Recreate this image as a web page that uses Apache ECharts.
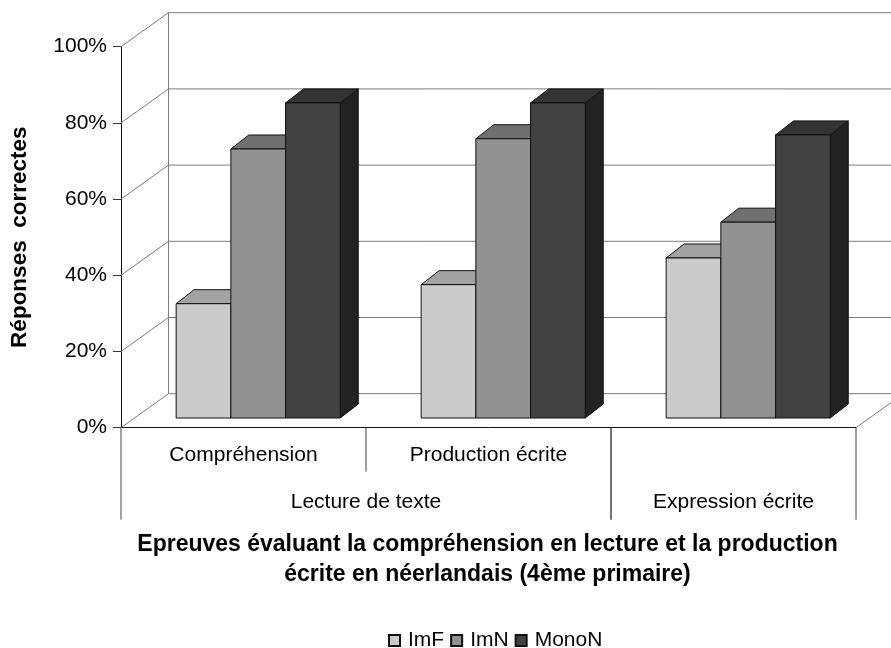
<!DOCTYPE html>
<html>
<head>
<meta charset="utf-8">
<style>html,body{margin:0;padding:0;background:#fff}#chart{width:891px;height:648px}</style>
<script src="https://cdn.jsdelivr.net/npm/echarts@6/dist/echarts.min.js"></script>
</head>
<body>
<div id="chart"></div>
<script>
// Scores per test, in percent of correct answers
const categories = ['Compréhension', 'Production écrite', ''];
const imF = [30, 35, 42];
const imN = [70.6, 73.3, 51.4];
const monoN = [82.7, 82.7, 74.3];
const valueTicks = [0, 20, 40, 60, 80, 100];
// Second label level: first category, last category, text
const groupStart = [0, 2];
const groupEnd = [1, 2];
const groupNames = ['Lecture de texte', 'Expression écrite'];
const xTitle = 'Epreuves évaluant la compréhension en lecture et la production\nécrite en néerlandais (4ème primaire)';
const yTitle = 'Réponses  correctes';

// Oblique projection used to fake the 3D box
const WALL_DX = 47.5, WALL_DY = -34;
const BAR_DX = 18, BAR_DY = -14;
const FLOOR_LIFT = 9.7;
const BAR_W = 54.7, CLUSTER_SHIFT = 14.7;
const FONT = '"Liberation Sans", Arial, sans-serif';

const line = (x1, y1, x2, y2, stroke, w) => ({
  type: 'line', shape: {x1, y1, x2, y2}, style: {stroke, lineWidth: w || 1}
});
const poly = (points, fill) => ({
  type: 'polygon', shape: {points}, style: {fill, stroke: '#111', lineWidth: 1, lineJoin: 'miter'}
});

function renderWall(params, api) {
  const v = api.value(1);
  const left = api.coord([0, v])[0] - api.size([1, 0])[0] / 2;
  const y = api.coord([0, v])[1];
  const right = left + api.size([1, 0])[0] * categories.length;
  const grey = '#7c7c7c';
  const kids = [
    line(left + WALL_DX, y + WALL_DY, right + WALL_DX, y + WALL_DY, grey, 1),
    line(left, y, left + WALL_DX, y + WALL_DY, grey, 1)
  ];
  if (params.dataIndex === 0) {
    const top = api.coord([0, valueTicks[valueTicks.length - 1]])[1];
    kids.push(line(left + WALL_DX, y + WALL_DY, left + WALL_DX, top + WALL_DY, grey, 1));
    kids.push(line(right, y, right + WALL_DX, y + WALL_DY, grey, 1));
  }
  return {type: 'group', children: kids};
}

function barRenderer(slot, topFill, sideFill) {
  return function (params, api) {
    const c = api.coord([api.value(0), api.value(1)]);
    const base = api.coord([api.value(0), 0])[1] - FLOOR_LIFT;
    const y = c[1] - FLOOR_LIFT;
    const x0 = c[0] + CLUSTER_SHIFT + (slot - 1.5) * BAR_W;
    const x1 = x0 + BAR_W;
    const dx = BAR_DX, dy = BAR_DY;
    return {type: 'group', children: [
      poly([[x1, y], [x1 + dx, y + dy], [x1 + dx, base + dy], [x1, base]], sideFill),
      poly([[x0, y], [x0 + dx, y + dy], [x1 + dx, y + dy], [x1, y]], topFill),
      poly([[x0, y], [x1, y], [x1, base], [x0, base]], api.visual('color'))
    ]};
  };
}

function barSeries(name, values, slot, front, topFill, sideFill) {
  return {
    name, type: 'custom', coordinateSystem: 'cartesian2d', clip: false, z: 3,
    itemStyle: {color: front, borderColor: '#111', borderWidth: 1},
    encode: {x: 0, y: 1},
    data: values.map((v, i) => [i, v]),
    renderItem: barRenderer(slot, topFill, sideFill),
    silent: true
  };
}

function renderLabelRows(params, api) {
  const i = params.dataIndex;
  const band = api.size([1, 0])[0];
  const y0 = api.coord([0, 0])[1];
  const left = api.coord([groupStart[i], 0])[0] - band / 2;
  const right = api.coord([groupEnd[i], 0])[0] + band / 2;
  const kids = [
    line(left, y0, left, y0 + 92, '#444'),
    line(right, y0, right, y0 + 92, '#444'),
    {type: 'text', style: {
      text: groupNames[i], x: (left + right) / 2, y: y0 + 75,
      fill: '#000', font: '21px ' + FONT, align: 'center', verticalAlign: 'middle'
    }}
  ];
  for (let k = groupStart[i] + 1; k <= groupEnd[i]; k++) {
    const x = api.coord([k, 0])[0] - band / 2;
    kids.push(line(x, y0, x, y0 + 44, '#444'));
  }
  return {type: 'group', children: kids};
}

const chart = echarts.init(document.getElementById('chart'), null, {renderer: 'canvas'});
chart.setOption({
  animation: false,
  backgroundColor: '#fff',
  textStyle: {fontFamily: FONT},
  grid: {left: 121, right: 35, top: 46.7, bottom: 220.3, outerBoundsMode: 'none'},
  title: {
    text: xTitle, left: 482.5, top: 525, textAlign: 'center',
    textStyle: {fontSize: 23, fontWeight: 'bold', color: '#000', lineHeight: 30, fontFamily: FONT}
  },
  legend: {
    data: ['ImF', 'ImN', 'MonoN'], left: 383, top: 625, icon: 'rect',
    itemWidth: 11, itemHeight: 11, itemGap: 6, selectedMode: false,
    textStyle: {fontSize: 21, color: '#000', padding: [0, 0, 6, 3], fontFamily: FONT}
  },
  xAxis: {
    type: 'category', data: categories,
    axisLine: {lineStyle: {color: '#111', width: 1}},
    axisTick: {show: false},
    axisLabel: {color: '#000', fontSize: 21, margin: 17, interval: 0, fontFamily: FONT}
  },
  yAxis: {
    type: 'value', min: 0, max: 100, interval: 20,
    name: yTitle, nameLocation: 'middle', nameGap: 90, nameRotate: 90,
    nameTextStyle: {fontSize: 22.5, fontWeight: 'bold', color: '#000', fontFamily: FONT},
    axisLine: {show: true, lineStyle: {color: '#111', width: 1}},
    axisTick: {show: true, length: 8, lineStyle: {color: '#333'}},
    axisLabel: {formatter: '{value}%', color: '#000', fontSize: 21, margin: 14, fontFamily: FONT},
    splitLine: {show: false}
  },
  series: [
    {
      type: 'custom', coordinateSystem: 'cartesian2d', clip: false, z: 1, silent: true,
      encode: {x: 0, y: 1},
      data: valueTicks.map(v => [0, v]),
      renderItem: renderWall
    },
    barSeries('ImF', imF, 0, '#cbcbcb', '#a3a3a3', '#8a8a8a'),
    barSeries('ImN', imN, 1, '#929292', '#707070', '#606060'),
    barSeries('MonoN', monoN, 2, '#424242', '#333333', '#222222'),
    {
      type: 'custom', coordinateSystem: 'cartesian2d', clip: false, z: 1, silent: true,
      encode: {x: 0, y: 1},
      data: groupNames.map((n, i) => [groupStart[i], 0]),
      renderItem: renderLabelRows
    }
  ]
});
</script>
</body>
</html>
